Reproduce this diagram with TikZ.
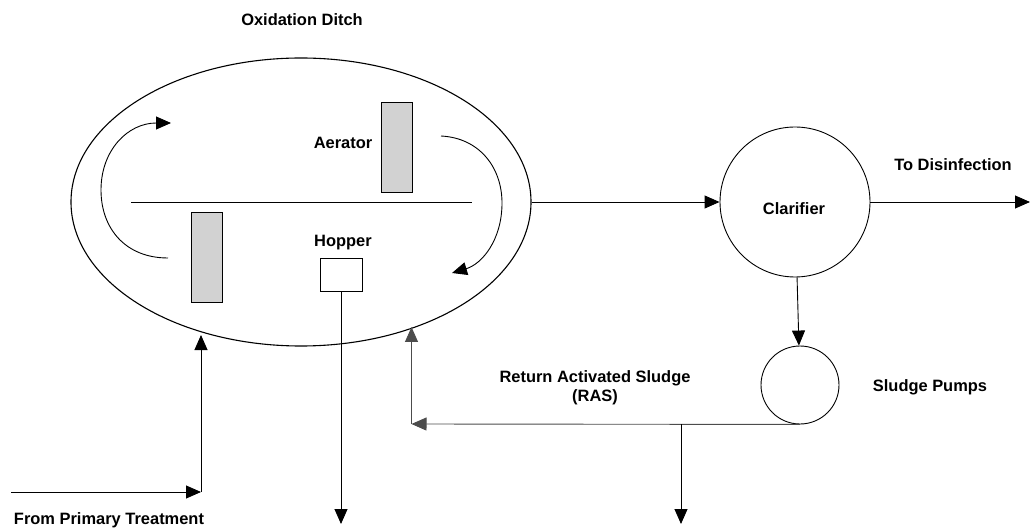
\documentclass[tikz,border=0pt]{standalone}
\usepackage{fontspec}
\setmainfont{Liberation Sans}
\usepackage{tikz}
\usetikzlibrary{shapes.geometric,arrows.meta}

\begin{document}
\begin{tikzpicture}[x=1bp,y=-1bp,line width=0.9bp]
        \useasboundingbox (0,0) rectangle (1031,529);
        \tikzstyle{every node}=[inner sep=0pt, font=\fontsize{16.5}{19}\selectfont\bfseries]
        \tikzstyle{paddle}=[draw, fill=gray!35, minimum width=31bp, minimum height=90bp]
        % tanks and pumps
        \node[draw, ellipse, minimum width=460bp, minimum height=288bp, line width=1.1bp] (ditch) at (301, 202) {};
        \node[draw, circle, minimum size=150bp] (clarifier) at (795, 202) {};
        \node[draw, circle, minimum size=78bp] (pumps) at (800, 385) {};
        \node[paddle] (aerator) at (396.5, 147) {};
        \node[paddle] (rotor)   at (206.5, 257.5) {};
        \node[draw, minimum width=42bp, minimum height=33bp] (hopper) at (341, 274.5) {};
        % labels
        \node (ditchlabel)  at (302, 20)  {Oxidation Ditch};
        \node (aeratorlabel) at (343, 143) {Aerator};
        \node (hopperlabel) at (343, 243) {Hopper};
        \node (clarlabel)   at (794, 209) {Clarifier};
        \node (disinlabel)  at (953, 165) {To Disinfection};
        \node (pumplabel)   at (930, 387) {Sludge Pumps};
        \node[align=center] (raslabel) at (595, 387.5) {Return Activated Sludge\\(RAS)};
        \node (primlabel)   at (109, 520) {From Primary Treatment};
        % free ends
        \coordinate (out)     at (1030, 202);
        \coordinate (primary) at (11, 492);
        \coordinate (corner)  at (201, 492);
        \coordinate (inlet)   at (201, 335);
        \coordinate (rasturn) at (411.5, 424);
        \coordinate (rasin)   at (411.5, 327);
        \coordinate (split)   at (681, 424);
        \coordinate (waste)   at (681, 524);
        \coordinate (dump)    at (341, 524);
        \tikzstyle{every path}=[-{Triangle[length=15bp,width=13bp]}]
        \draw (ditch) -- (clarifier);
        \draw (clarifier) -- (out);
        \draw (clarifier) -- (pumps);
        \draw (primary) -- (corner);
        \draw (corner) -- (inlet);
        \draw[black!70] (pumps.south) -- (rasturn);
        \draw[black!70] (rasturn) -- (rasin);
        \draw (split) -- (waste);
        \draw (hopper.south) -- (dump);
        % flow in the ditch
        \draw (168,258) .. controls (125,258) and (101,228) .. (101,190)
              .. controls (101,150) and (128,123) .. (171,123);
        \draw (441,136) .. controls (480,138) and (502,168) .. (502,203)
              .. controls (502,240) and (482,264) .. (452,273);
        \draw[-] (131,202) -- (472,202);
    \end{tikzpicture}
\end{document}
